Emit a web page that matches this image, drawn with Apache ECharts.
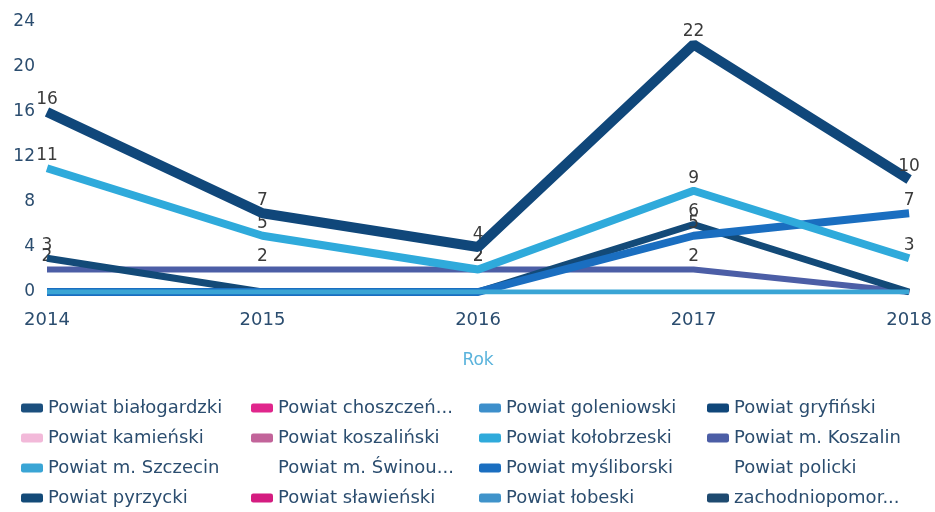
<!DOCTYPE html>
<html>
<head>
  <meta charset="UTF-8">
  <title>Rok</title>
  <script src="https://cdn.jsdelivr.net/npm/echarts@6/dist/echarts.min.js"></script>
  <style>
    html, body { margin: 0; padding: 0; background: #fff; }
    #main { width: 935px; height: 512px; }
  </style>
</head>
<body>
<div id="main"></div>
<script type="text/javascript">
  // lata na osi X
  var years = ['2014', '2015', '2016', '2017', '2018'];
  var yTicks = [0, 4, 8, 12, 16, 20, 24];

  // nazwy serii (kolejnosc jak w legendzie)
  var names = [
    'Powiat białogardzki', 'Powiat choszczeński', 'Powiat goleniowski', 'Powiat gryfiński',
    'Powiat kamieński', 'Powiat koszaliński', 'Powiat kołobrzeski', 'Powiat m. Koszalin',
    'Powiat m. Szczecin', 'Powiat m. Świnoujście', 'Powiat myśliborski', 'Powiat policki',
    'Powiat pyrzycki', 'Powiat sławieński', 'Powiat łobeski', 'zachodniopomorskie'
  ];

  var bialogardzki = [0, 0, 0, 0, 0];
  var choszczenski = [0, 0, 0, 0, 0];
  var goleniowski = [0, 0, 0, 0, 0];
  var gryfinski = [16, 7, 4, 22, 10];
  var kamienski = [0, 0, 0, 0, 0];
  var koszalinski = [0, 0, 0, 0, 0];
  var kolobrzeski = [11, 5, 2, 9, 3];
  var mKoszalin = [2, 2, 2, 2, 0];
  var mSzczecin = [0, 0, 0, 0, 0];
  var mSwinoujscie = [0, 0, 0, 0, 0];
  var mysliborski = [0, 0, 0, 5, 7];
  var policki = [0, 0, 0, 0, 0];
  var pyrzycki = [3, 0, 0, 6, 0];
  var slawienski = [0, 0, 0, 0, 0];
  var lobeski = [0, 0, 0, 0, 0];
  var zachodniopomorskie = [0, 0, 0, 0, 0];

  var values = [bialogardzki, choszczenski, goleniowski, gryfinski, kamienski, koszalinski,
    kolobrzeski, mKoszalin, mSzczecin, mSwinoujscie, mysliborski, policki,
    pyrzycki, slawienski, lobeski, zachodniopomorskie];

  var colors = ['#1b4f7e', '#e0268c', '#3d8fcb', '#10477a', '#f2b9d9', '#c2649a', '#2faadb', '#4c5ea6',
    '#3aa5d5', 'rgba(0,0,0,0)', '#1a6ec0', 'rgba(0,0,0,0)', '#134a78', '#d41c80', '#3f93ca', '#1e4a70'];
  var widths = [3, 3, 3, 10, 3, 3, 8, 6, 5, 3, 8, 3, 7, 3, 3, 3];
  // kolejnosc rysowania (wyzej = na wierzchu)
  var zs = [1, 1, 1, 9, 1, 1, 7, 4, 8, 1, 6, 1, 5, 1, 1, 1];

  var myChart = echarts.init(document.getElementById('main'));

  var series = [];
  for (var i = 0; i < names.length; i++) {
    series.push({
      name: names[i],
      type: 'line',
      data: values[i],
      z: zs[i],
      symbol: 'circle',
      symbolSize: 0,
      showSymbol: true,
      animation: false,
      color: colors[i],
      lineStyle: { width: widths[i], color: colors[i] },
      label: {
        show: true,
        position: 'top',
        distance: 4,
        fontFamily: 'DejaVu Sans',
        fontSize: 17,
        color: '#3b3b3b',
        formatter: function (p) { return p.value ? String(p.value) : ''; }
      }
    });
  }

  // legenda w 4 kolumnach
  var colLeft = [21, 251, 479, 707];
  var colWidth = [200, 180, 200, 174];
  var legends = [];
  for (var c = 0; c < 4; c++) {
    var colData = [];
    for (var j = c; j < names.length; j += 4) colData.push(names[j]);
    legends.push({
      orient: 'vertical',
      left: colLeft[c],
      top: 398,
      height: 114,
      padding: 0,
      itemWidth: 22,
      itemHeight: 9,
      itemGap: 10,
      icon: 'roundRect',
      selectedMode: false,
      data: colData,
      textStyle: {
        fontFamily: 'DejaVu Sans',
        fontSize: 18,
        lineHeight: 20,
        color: '#2b4d6f',
        width: colWidth[c],
        overflow: 'truncate',
        ellipsis: '...'
      }
    });
  }

  myChart.setOption({
    animation: false,
    legend: legends,
    grid: { left: 47, right: 24, top: 22, bottom: 220, containLabel: false },
    xAxis: {
      type: 'category',
      data: years,
      boundaryGap: false,
      name: 'Rok',
      nameLocation: 'middle',
      nameGap: 60,
      nameTextStyle: { fontFamily: 'DejaVu Sans', fontSize: 17, color: '#5ab3dc' },
      axisLine: { show: false },
      axisTick: { show: false },
      axisLabel: { margin: 19, fontFamily: 'DejaVu Sans', fontSize: 18, color: '#2b4d6f' }
    },
    yAxis: {
      type: 'value',
      min: yTicks[0],
      max: yTicks[yTicks.length - 1],
      interval: yTicks[1] - yTicks[0],
      splitLine: { show: false },
      axisLine: { show: false },
      axisTick: { show: false },
      axisLabel: { margin: 12, fontFamily: 'DejaVu Sans', fontSize: 17, color: '#2b4d6f' }
    },
    series: series
  });
</script>
</body>
</html>
